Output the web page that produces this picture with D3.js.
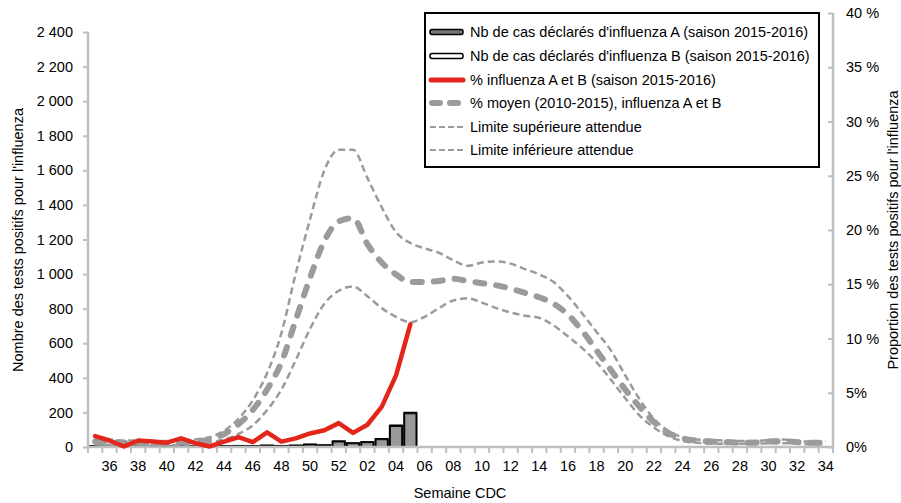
<!DOCTYPE html>
<html><head><meta charset="utf-8">
<script src="https://cdn.jsdelivr.net/npm/d3@7"></script>
<style>
body{margin:0;background:#fff;}
svg{display:block;font-family:"Liberation Sans",Arial,sans-serif;}
</style></head>
<body><svg id="c" width="901" height="503"></svg>
<script>
const weeks = ["35","36","37","38","39","40","41","42","43","44","45","46","47","48","49","50","51","52",
"01","02","03","04","05","06","07","08","09","10","11","12","13","14","15","16","17","18","19","20","21","22","23","24","25","26","27","28","29","30","31","32","33","34"];
const weekLabels = ["36","38","40","42","44","46","48","50","52","02","04","06","08","10","12","14","16","18","20","22","24","26","28","30","32","34"];
// Reported cases 2015-2016 (weeks 35 to 05)
const casesA = [5,3,2,4,3,3,6,4,3,5,6,5,8,6,8,14,10,32,22,28,45,122,195];
const casesB = [1,0,1,1,0,1,1,1,0,1,2,1,2,1,2,2,2,3,2,3,4,5,6];
// % positive A and B, season 2015-2016
const pctSeason = [1.0,0.6,0.05,0.6,0.5,0.4,0.8,0.35,0.05,0.5,0.9,0.45,1.35,0.5,0.8,1.25,1.55,2.2,1.3,2.05,3.7,6.6,11.3];
// Mean % 2010-2015
const pctMean = [0.5,0.45,0.4,0.4,0.35,0.35,0.4,0.5,0.7,1.2,2.1,3.4,5.3,7.8,11.7,15.6,19.0,20.8,21.1,18.7,17.0,15.9,15.2,15.2,15.3,15.5,15.3,15.1,14.9,14.6,14.2,13.8,13.2,12.2,10.7,8.9,7.1,5.3,3.7,2.3,1.3,0.8,0.6,0.5,0.45,0.4,0.4,0.5,0.55,0.45,0.4,0.4];
// Expected upper limit
const pctUpper = [0.8,0.7,0.6,0.6,0.55,0.55,0.6,0.7,0.9,1.5,2.6,4.3,6.8,10.5,16.0,21.0,25.5,27.4,27.4,24.8,22.1,19.8,18.8,18.3,17.9,17.2,16.7,17.0,17.1,16.9,16.4,15.9,15.2,13.9,12.3,10.6,8.9,6.6,4.4,2.6,1.5,0.9,0.7,0.65,0.6,0.55,0.55,0.65,0.7,0.55,0.5,0.5];
// Expected lower limit
const pctLower = [0.25,0.2,0.2,0.2,0.15,0.15,0.2,0.25,0.4,0.7,1.2,2.0,3.4,5.3,8.0,10.9,13.2,14.4,14.8,13.9,12.8,12.0,11.5,12.0,12.8,13.5,13.7,13.3,12.8,12.4,12.1,11.9,11.2,10.2,9.1,7.8,6.2,4.5,2.9,1.8,1.0,0.55,0.4,0.3,0.3,0.3,0.3,0.35,0.35,0.3,0.25,0.25];
const leftTicks = [0,200,400,600,800,1000,1200,1400,1600,1800,2000,2200,2400];
const rightTicks = [0,5,10,15,20,25,30,35,40];
const legendLabels = ["Nb de cas déclarés d'influenza A (saison 2015-2016)","Nb de cas déclarés d'influenza B (saison 2015-2016)","% influenza A et B (saison 2015-2016)","% moyen (2010-2015), influenza A et B","Limite supérieure attendue","Limite inférieure attendue"];

const svg = d3.select("#c");
const FS = 14.5;
const axisCol = "#bfbfbf", grey = "#9b9b9b", red = "#e3261b";
const x = d3.scaleBand().domain(weeks).range([88, 833]).padding(0);
const cx = w => x(w) + x.bandwidth()/2;
const yL = d3.scaleLinear().domain([0,2400]).range([447,32]);
const yR = d3.scaleLinear().domain([0,40]).range([447,13]);

// bars (stacked A + B)
const barData = casesA.map((a,i)=>({w:weeks[i], a, b:casesB[i]}));
const gb = svg.append("g");
gb.selectAll("rect.a").data(barData).join("rect")
  .attr("x", d=>x(d.w)+1).attr("width", x.bandwidth()-2)
  .attr("y", d=>yL(d.a)).attr("height", d=>yL(0)-yL(d.a))
  .attr("fill","#999").attr("stroke","#000").attr("stroke-width",2);
gb.selectAll("rect.b").data(barData.filter(d=>d.b>0)).join("rect")
  .attr("x", d=>x(d.w)+1).attr("width", x.bandwidth()-2)
  .attr("y", d=>yL(d.a+d.b)).attr("height", d=>yL(d.a)-yL(d.a+d.b))
  .attr("fill","#fff").attr("stroke","#000").attr("stroke-width",1);

// axes
const gx = svg.append("g").attr("transform","translate(0,447)")
  .call(d3.axisBottom(x).tickValues(weekLabels).tickSize(0).tickPadding(14));
gx.select(".domain").remove();
gx.selectAll("text").attr("font-size",FS).attr("fill","#000").attr("font-family","Liberation Sans, Arial");
// boundary ticks
const bounds = weeks.map(w=>x(w)).concat([x.range()[1]]);
svg.append("g").selectAll("line").data(bounds).join("line")
  .attr("x1",d=>d).attr("x2",d=>d).attr("y1",447).attr("y2",453)
  .attr("stroke",axisCol).attr("stroke-width",2);
svg.append("line").attr("x1",88).attr("x2",833).attr("y1",447).attr("y2",447)
  .attr("stroke",axisCol).attr("stroke-width",2.5);

const fmtL = d=>d3.format(",")(d).replace(",", " ");
const gl = svg.append("g").attr("transform","translate(88,0)")
  .call(d3.axisLeft(yL).tickValues(leftTicks).tickFormat(fmtL).tickSize(5).tickPadding(10));
gl.select(".domain").attr("stroke",axisCol).attr("stroke-width",2.5).attr("d","M0,32V447");
gl.selectAll(".tick line").attr("stroke",axisCol).attr("stroke-width",2);
gl.selectAll("text").attr("font-size",FS).attr("fill","#000");

const fmtR = d=> d<10 ? d+"%" : d+" %";
const gr = svg.append("g").attr("transform","translate(833,0)")
  .call(d3.axisRight(yR).tickValues(rightTicks).tickFormat(fmtR).tickSize(5).tickPadding(8));
gr.select(".domain").attr("stroke",axisCol).attr("stroke-width",2.5).attr("d","M0,13V447");
gr.selectAll(".tick line").attr("stroke",axisCol).attr("stroke-width",2).attr("x1",-5).attr("x2",0);
gr.selectAll("text").attr("font-size",FS).attr("fill","#000");

// lines
const smooth = d3.line().x((d,i)=>cx(weeks[i])).y(d=>yR(d)).curve(d3.curveMonotoneX);
const straight = d3.line().x((d,i)=>cx(weeks[i])).y(d=>yR(d));
svg.append("path").attr("d",smooth(pctUpper)).attr("fill","none").attr("stroke",grey)
  .attr("stroke-width",2.5).attr("stroke-dasharray","7,4");
svg.append("path").attr("d",smooth(pctLower)).attr("fill","none").attr("stroke",grey)
  .attr("stroke-width",2.5).attr("stroke-dasharray","7,4");
svg.append("path").attr("d",smooth(pctMean)).attr("fill","none").attr("stroke",grey)
  .attr("stroke-width",6).attr("stroke-dasharray","9,12").attr("stroke-linecap","round");
svg.append("path").attr("d",straight(pctSeason)).attr("fill","none").attr("stroke",red)
  .attr("stroke-width",4.5).attr("stroke-linejoin","round").attr("stroke-linecap","round");

// axis titles
svg.append("text").attr("transform","translate(23,240) rotate(-90)").attr("text-anchor","middle")
  .attr("font-size",FS).text("Nombre des tests positifs pour l'influenza");
svg.append("text").attr("transform","translate(898,230) rotate(-90)").attr("text-anchor","middle")
  .attr("font-size",FS).text("Proportion des tests positifs pour l'influenza");
svg.append("text").attr("x",460).attr("y",498).attr("text-anchor","middle")
  .attr("font-size",FS).text("Semaine CDC");

// legend
const lg = svg.append("g");
lg.append("rect").attr("x",425).attr("y",13).attr("width",394).attr("height",154)
  .attr("fill","#fff").attr("stroke","#000").attr("stroke-width",2);
const ly = [32,56,80,103,127,150];
lg.append("rect").attr("x",430).attr("y",ly[0]-2.5).attr("width",33).attr("height",5).attr("rx",2)
  .attr("fill","#777").attr("stroke","#000").attr("stroke-width",1.5);
lg.append("rect").attr("x",430).attr("y",ly[1]-2.5).attr("width",33).attr("height",5).attr("rx",2)
  .attr("fill","#fff").attr("stroke","#000").attr("stroke-width",1.5);
lg.append("line").attr("x1",431).attr("x2",463).attr("y1",ly[2]).attr("y2",ly[2])
  .attr("stroke",red).attr("stroke-width",5).attr("stroke-linecap","round");
lg.append("line").attr("x1",432).attr("x2",463).attr("y1",ly[3]).attr("y2",ly[3])
  .attr("stroke",grey).attr("stroke-width",6).attr("stroke-dasharray","8,10").attr("stroke-linecap","round");
[4,5].forEach(k=>lg.append("line").attr("x1",430).attr("x2",463).attr("y1",ly[k]).attr("y2",ly[k])
  .attr("stroke",grey).attr("stroke-width",2).attr("stroke-dasharray","6,3"));
lg.selectAll("text").data(legendLabels).join("text")
  .attr("x",470).attr("y",(d,i)=>ly[i]+5).attr("font-size",FS).text(d=>d);
</script></body></html>
